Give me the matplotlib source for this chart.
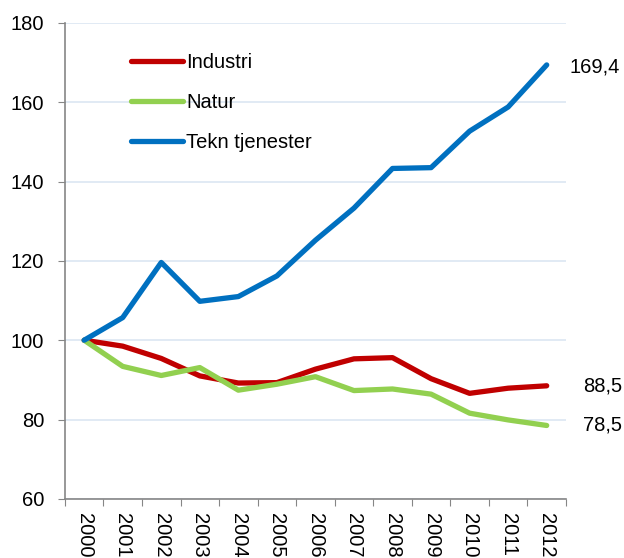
import matplotlib
matplotlib.use('Agg')
import matplotlib.pyplot as plt

plt.rcParams['font.family'] = ['Liberation Sans', 'DejaVu Sans']

# Data (index, 2000 = 100)
years = ['2000', '2001', '2002', '2003', '2004', '2005', '2006',
         '2007', '2008', '2009', '2010', '2011', '2012']
industri = [100, 98.5, 95.4, 91.0, 89.2, 89.3, 92.7, 95.3, 95.6, 90.3, 86.6, 87.9, 88.5]
natur = [100, 93.4, 91.1, 93.1, 87.4, 88.9, 90.8, 87.3, 87.7, 86.4, 81.6, 79.9, 78.5]
tekn = [100, 105.7, 119.6, 109.8, 111.0, 116.2, 125.2, 133.3, 143.3, 143.5, 152.7, 158.8, 169.4]
end_labels = ['88,5', '78,5', '169,4']

fs = 14.5
fig = plt.figure(figsize=(6.24, 5.58), dpi=100)
ax = fig.add_axes([0.104, 0.106, 0.803, 0.853])

x = range(len(years))
ax.plot(x, industri, color='#c00000', lw=3.8, label='Industri', solid_capstyle='round')
ax.plot(x, natur, color='#92d050', lw=3.8, label='Natur', solid_capstyle='round')
ax.plot(x, tekn, color='#0070c0', lw=3.8, label='Tekn tjenester', solid_capstyle='round')

# end-of-line values
ax.text(12.95, 88.5, end_labels[0], fontsize=fs, va='center', ha='left')
ax.text(12.95, 78.5, end_labels[1], fontsize=fs, va='center', ha='left')
ax.text(12.6, 168.8, end_labels[2], fontsize=fs, va='center', ha='left')

ax.set_xlim(-0.5, 12.5)
ax.set_ylim(60, 180)
ax.set_yticks(range(60, 181, 20))
ax.set_xticks([i - 0.5 for i in range(14)], minor=False)
ax.set_xticklabels([])
ax.set_xticks(list(x), minor=True)
ax.set_xticklabels(years, minor=True, rotation=270, fontsize=fs, va='top', ha='center')
ax.tick_params(axis='x', which='minor', length=0, pad=10)
ax.tick_params(axis='x', which='major', length=5, color='#868686')
ax.tick_params(axis='y', length=5, color='#868686', labelsize=fs, pad=10)

ax.grid(axis='y', color='#dce6f2', lw=1.2)
ax.set_axisbelow(True)
for s in ['top', 'right']:
    ax.spines[s].set_visible(False)
for s in ['left', 'bottom']:
    ax.spines[s].set_color('#868686')
    ax.spines[s].set_linewidth(1.2)

ax.legend(loc='upper left', bbox_to_anchor=(0.095, 0.975), frameon=False, fontsize=fs,
          handlelength=2.6, handletextpad=0.15, labelspacing=1.05)

fig.savefig('out.png', dpi=100)
